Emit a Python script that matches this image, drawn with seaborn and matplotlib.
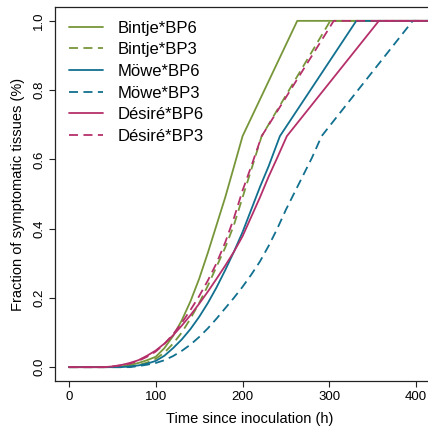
import matplotlib
matplotlib.use("Agg")
import matplotlib.pyplot as plt
import seaborn as sns
import numpy as np
import pandas as pd

# series (time in h, fraction of symptomatic tissues)
labels = ["Bintje*BP6", "Bintje*BP3", "Möwe*BP6", "Möwe*BP3", "Désiré*BP6", "Désiré*BP3"]

bintje_bp6_x = [0, 50, 60, 70, 80, 90, 100, 110, 120, 130, 140, 150, 160, 170, 180, 190, 200, 263, 420]
bintje_bp6_y = [0, 0, 0.002, 0.006, 0.012, 0.02, 0.03, 0.055, 0.09, 0.135, 0.19, 0.255, 0.33, 0.41, 0.49, 0.578, 0.667, 1, 1]

bintje_bp3_x = [0, 60, 70, 80, 90, 100, 110, 120, 130, 140, 150, 160, 170, 180, 190, 200, 210, 222, 301, 420]
bintje_bp3_y = [0, 0, 0.002, 0.006, 0.013, 0.024, 0.042, 0.068, 0.1, 0.14, 0.185, 0.235, 0.29, 0.345, 0.41, 0.49, 0.57, 0.667, 1, 1]

mowe_bp6_x = [0, 60, 70, 80, 90, 100, 110, 120, 130, 140, 150, 160, 170, 180, 190, 200, 210, 220, 230, 243, 331, 420]
mowe_bp6_y = [0, 0, 0.002, 0.005, 0.01, 0.018, 0.033, 0.055, 0.08, 0.11, 0.145, 0.185, 0.23, 0.28, 0.333, 0.39, 0.455, 0.52, 0.58, 0.667, 1, 1]

mowe_bp3_x = [0, 70, 80, 90, 100, 110, 120, 130, 140, 150, 160, 170, 180, 190, 200, 210, 220, 230, 240, 250, 260, 270, 280, 291, 396, 420]
mowe_bp3_y = [0, 0, 0.003, 0.007, 0.012, 0.02, 0.032, 0.047, 0.065, 0.087, 0.112, 0.14, 0.17, 0.2, 0.232, 0.267, 0.305, 0.35, 0.4, 0.455, 0.505, 0.555, 0.605, 0.667, 1, 1]

desire_bp6_x = [0, 40, 50, 60, 70, 80, 90, 100, 110, 120, 130, 140, 150, 160, 170, 180, 190, 200, 210, 220, 230, 240, 251, 357, 420]
desire_bp6_y = [0, 0, 0.002, 0.006, 0.012, 0.02, 0.033, 0.048, 0.068, 0.092, 0.12, 0.15, 0.183, 0.218, 0.255, 0.293, 0.333, 0.378, 0.434, 0.49, 0.55, 0.605, 0.667, 1, 1]

desire_bp3_x = [0, 40, 50, 60, 70, 80, 90, 100, 110, 120, 130, 140, 150, 160, 170, 180, 190, 200, 210, 222, 305, 420]
desire_bp3_y = [0, 0, 0.002, 0.005, 0.01, 0.018, 0.03, 0.045, 0.067, 0.095, 0.128, 0.165, 0.205, 0.25, 0.3, 0.36, 0.43, 0.51, 0.58, 0.667, 1, 1]

xs = [bintje_bp6_x, bintje_bp3_x, mowe_bp6_x, mowe_bp3_x, desire_bp6_x, desire_bp3_x]
ys = [bintje_bp6_y, bintje_bp3_y, mowe_bp6_y, mowe_bp3_y, desire_bp6_y, desire_bp3_y]

green = "#77963a"
blue = "#11708f"
magenta = "#b5306a"
palette = dict(zip(labels, [green, green, blue, blue, magenta, magenta]))
dashes = dict(zip(labels, ["", (5, 3), "", (5, 3), "", (5, 3)]))

rows = []
for lab, x, y in zip(labels, xs, ys):
    for a, b in zip(x, y):
        rows.append((lab, a, b))
df = pd.DataFrame(rows, columns=["series", "time", "frac"])

sns.set_style("white")
plt.rcParams["font.family"] = ["Liberation Sans", "DejaVu Sans"]
plt.rcParams["text.color"] = "black"
plt.rcParams["axes.labelcolor"] = "black"
plt.rcParams["xtick.color"] = "black"
plt.rcParams["ytick.color"] = "black"

fig = plt.figure(figsize=(4.28, 4.28), dpi=100)
ax = fig.add_axes([55 / 428, 47 / 428, 389 / 428, 374 / 428])

sns.lineplot(data=df, x="time", y="frac", hue="series", style="series",
             hue_order=labels, style_order=labels, palette=palette, dashes=dashes,
             estimator=None, sort=False, linewidth=1.3, ax=ax)

ax.set_xlim(-16, 432)
ax.set_ylim(-0.04, 1.04)
ax.set_xticks([0, 100, 200, 300, 400])
ax.set_yticks([0, 0.2, 0.4, 0.6, 0.8, 1.0])
ax.set_yticklabels(["0.0", "0.2", "0.4", "0.6", "0.8", "1.0"], rotation=90, va="center")
ax.tick_params(axis="both", direction="out", length=4, width=0.8, color="#222222",
               labelsize=9.5, left=True, bottom=True, pad=3)
for s in ax.spines.values():
    s.set_color("#222222")
    s.set_linewidth(0.9)
ax.set_xlabel("Time since inoculation (h)", fontsize=10.5, labelpad=7)
ax.set_ylabel("Fraction of symptomatic tissues (%)", fontsize=10.5, labelpad=6)

leg = ax.legend(loc="upper left", bbox_to_anchor=(0.007, 0.995), frameon=False,
                fontsize=12, handlelength=2.0, handletextpad=0.9, labelspacing=0.4,
                borderaxespad=0.3)
for line in leg.get_lines():
    line.set_linewidth(1.3)

fig.savefig("out.png", dpi=100)
